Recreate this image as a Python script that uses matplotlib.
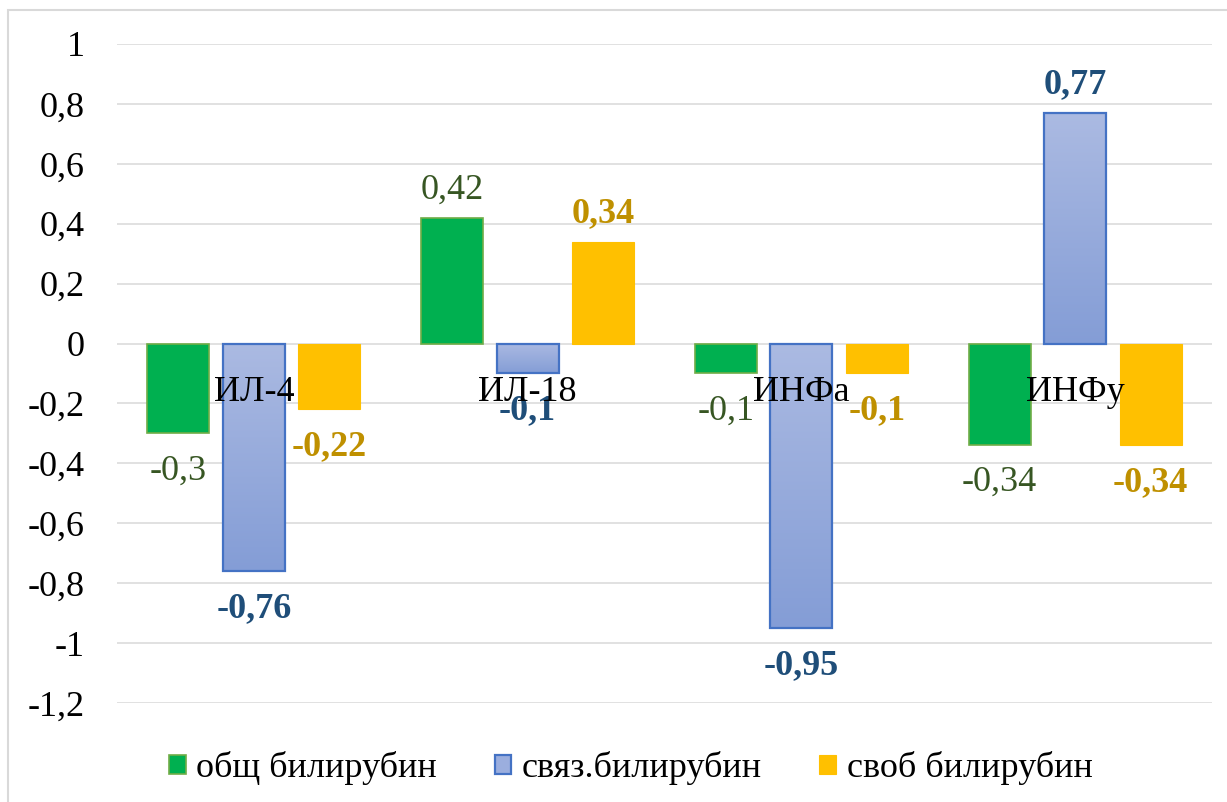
import numpy as np
import matplotlib.pyplot as plt
import matplotlib.patches as mpatches
from matplotlib.colors import LinearSegmentedColormap

plt.rcParams['font.family'] = ['Liberation Serif', 'DejaVu Serif']

# данные
categories = ["ИЛ-4", "ИЛ-18", "ИНФа", "ИНФу"]
series_names = ["общ билирубин", "связ.билирубин", "своб билирубин"]
obshch = [-0.3, 0.42, -0.1, -0.34]
svyaz = [-0.76, -0.1, -0.95, 0.77]
svob = [-0.22, 0.34, -0.1, -0.34]
y_ticks = [1, 0.8, 0.6, 0.4, 0.2, 0, -0.2, -0.4, -0.6, -0.8, -1, -1.2]

FS = 26
grid_c = "#D9D9D9"


def fmt(v):
    return f"{v:g}".replace(".", ",")


fig = plt.figure(figsize=(12.27, 8.02), dpi=100)
ax = fig.add_axes([117 / 1227, 1 - 703 / 802, (1212 - 117) / 1227, (703 - 44) / 802])

# рамка диаграммы
fig.patches.append(mpatches.Rectangle((8 / 1227, -0.02), 1.1, 0.02 + 1 - 10 / 802,
                                      transform=fig.transFigure, fill=False,
                                      edgecolor=grid_c, lw=1.5))

x = np.arange(len(categories))
off = 0.276
w = 0.2265

b1 = ax.bar(x - off, obshch, w, color="#00B050", edgecolor="#70AD47", lw=1.2, zorder=3)
b2 = ax.bar(x, svyaz, w, facecolor="none", edgecolor="#4472C4", lw=1.6, zorder=4)
b3 = ax.bar(x + off, svob, w, color="#FFC000", edgecolor="#FFC000", lw=0.8, zorder=3)

# градиентная заливка для синих столбцов: светлее сверху, темнее снизу
cmap = LinearSegmentedColormap.from_list("grad", ["#ABBAE2", "#849DD6"])
grad = np.linspace(0, 1, 256).reshape(-1, 1)
for p in b2:
    bb = p.get_bbox()
    y_lo, y_hi = min(bb.y0, bb.y1), max(bb.y0, bb.y1)
    im = ax.imshow(grad, cmap=cmap, extent=[bb.x0, bb.x1, y_lo, y_hi],
                   origin="upper", aspect="auto", zorder=3.5)
    im.set_clip_path(p)

ax.set_xlim(-0.5, 3.5)
ax.set_ylim(-1.2, 1.0)

ax.set_yticks(y_ticks)
ax.set_yticklabels([fmt(t) for t in y_ticks], fontsize=FS)
ax.tick_params(axis="y", length=0, pad=23)
ax.set_xticks([])
for s in ax.spines.values():
    s.set_visible(False)
ax.yaxis.grid(True, color=grid_c, lw=1.1, zorder=0)
ax.set_axisbelow(True)

# подписи значений
label_styles = [
    (b1, obshch, "#375623", "normal"),
    (b2, svyaz, "#1F4E79", "bold"),
    (b3, svob, "#BF9000", "bold"),
]
for bars, vals, col, wt in label_styles:
    for p, v in zip(bars, vals):
        cx = p.get_x() + p.get_width() / 2
        if v >= 0:
            ax.annotate(fmt(v), (cx, v), xytext=(0, 14), textcoords="offset points",
                        ha="center", va="baseline", fontsize=FS, color=col,
                        fontweight=wt, zorder=5)
        else:
            ax.annotate(fmt(v), (cx, v), xytext=(0, -15), textcoords="offset points",
                        ha="center", va="top", fontsize=FS, color=col,
                        fontweight=wt, zorder=5)

# подписи категорий
for xi, name in zip(x, categories):
    ax.text(xi, -0.192, name, ha="center", va="baseline", fontsize=FS,
            color="black", zorder=6)

handles = [
    mpatches.Patch(facecolor="#00B050", edgecolor="#70AD47", lw=1.2),
    mpatches.Patch(facecolor="#9BAEDE", edgecolor="#4472C4", lw=1.6),
    mpatches.Patch(facecolor="#FFC000", edgecolor="#FFC000", lw=0.8),
]
fig.legend(handles, series_names, loc="center", bbox_to_anchor=(0.514, 0.042),
           ncol=3, frameon=False, fontsize=FS, handlelength=0.47, handleheight=0.47,
           handletextpad=0.28, columnspacing=1.6, borderpad=0)

fig.savefig("out.png", dpi=100)
